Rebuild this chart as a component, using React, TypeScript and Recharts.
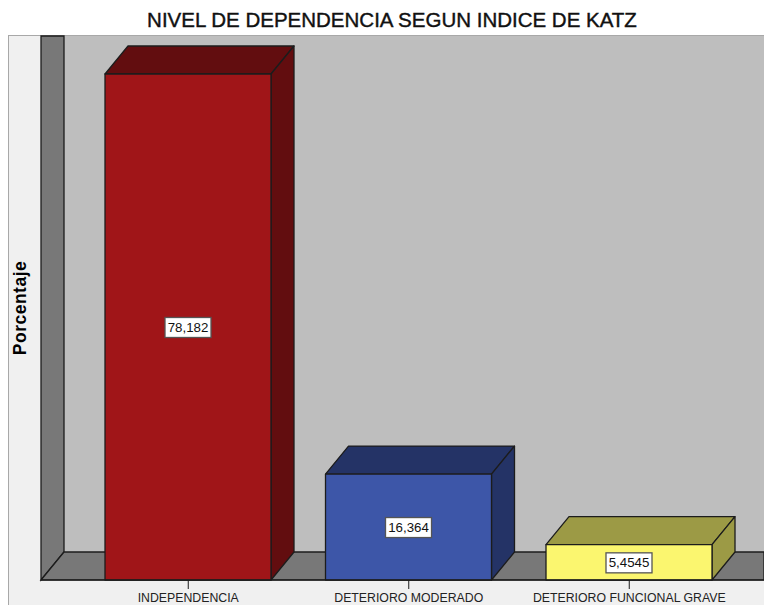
import React from 'react';
import { BarChart, Bar, XAxis, YAxis, LabelList, usePlotArea, useChartWidth, useChartHeight } from 'recharts';

const categories = ['INDEPENDENCIA', 'DETERIORO MODERADO', 'DETERIORO FUNCIONAL GRAVE'];
const values = [78.182, 16.364, 5.4545];
const valueLabels = ['78,182', '16,364', '5,4545'];
const frontColors = ['#A01518', '#3D56A8', '#FBF66F'];
const darkColors = ['#620D0F', '#243366', '#9C9A45'];
const data = categories.map((name, i) => ({ name, value: values[i], label: valueLabels[i], front: frontColors[i], dark: darkColors[i] }));

const DX = 23;
const DY = 28;
const LINE = '#1c1c1c';
const FONT = '"Liberation Sans", Arial, sans-serif';

function Walls() {
  const p = usePlotArea();
  const w = useChartWidth();
  const h = useChartHeight();
  if (!p || !w || !h) return null;
  const l = p.x;
  const t = p.y;
  const b = p.y + p.height;
  const r = p.x + p.width;
  return (
    <g>
      <rect x={8.5} y={t - 0.5} width={w} height={h - t + 1} fill="#F0F0F0" stroke="#A8A8A8" strokeWidth={1} />
      <rect x={l + DX} y={t} width={r - l - DX} height={b - DY - t} fill="#BEBEBE" />
      <polygon points={`${l},${t} ${l + DX},${t} ${l + DX},${b - DY} ${l},${b}`} fill="#787878" stroke={LINE} strokeWidth={1.3} />
      <polygon points={`${l},${b} ${l + DX},${b - DY} ${r},${b - DY} ${r},${b}`} fill="#787878" stroke={LINE} strokeWidth={1.3} />
    </g>
  );
}

function Box3D(props: any) {
  const { x, y, width, height, payload } = props;
  const x2 = x + width;
  const y2 = y + height;
  return (
    <g stroke={LINE} strokeWidth={1.3} strokeLinejoin="round">
      <polygon points={`${x},${y} ${x + DX},${y - DY} ${x2 + DX},${y - DY} ${x2},${y}`} fill={payload.dark} />
      <polygon points={`${x2},${y} ${x2 + DX},${y - DY} ${x2 + DX},${y2 - DY} ${x2},${y2}`} fill={payload.dark} />
      <rect x={x} y={y} width={width} height={height} fill={payload.front} />
    </g>
  );
}

function ValueBox(props: any) {
  const { x, y, width, height, value } = props;
  const cx = x + width / 2;
  const cy = y + height / 2;
  const bw = 46;
  const bh = 20;
  return (
    <g>
      <rect x={cx - bw / 2} y={cy - bh / 2 + 0.5} width={bw} height={bh} fill="#FFFFFF" stroke="#555555" strokeWidth={1.3} />
      <text x={cx} y={cy + 0.5} textAnchor="middle" dominantBaseline="central" fontFamily={FONT} fontSize={13.3} fill="#111111">{value}</text>
    </g>
  );
}

export default function App() {
  return (
    <div style={{ position: 'absolute', left: 0, top: 0, width: 764, height: 605, overflow: 'hidden', background: '#FFFFFF' }}>
      <BarChart width={764} height={605} data={data} margin={{ top: 36, right: 0, bottom: 0, left: 8 }}>
        <Walls />
        <XAxis
          dataKey="name"
          height={25}
          interval={0}
          padding={{ left: 37, right: 24.5 }}
          stroke={LINE}
          tickSize={9}
          tickMargin={4}
          tick={{ fontFamily: FONT, fontSize: 12.3, fill: '#222222' }}
        />
        <YAxis
          domain={[0, 84.05]}
          width={33}
          tick={false}
          axisLine={false}
          tickLine={false}
          label={{ value: 'Porcentaje', angle: -90, position: 'insideLeft', offset: 12, style: { fontFamily: FONT, fontSize: 17.5, fontWeight: 700, letterSpacing: 0.5, fill: '#000000', textAnchor: 'middle' } }}
        />
        <Bar dataKey="value" barSize={166} shape={Box3D} isAnimationActive={false}>
          <LabelList dataKey="label" content={ValueBox} />
        </Bar>
      </BarChart>
      <div style={{ position: 'absolute', left: 0, top: 9, width: 784, textAlign: 'center', fontFamily: FONT, fontSize: 20.5, lineHeight: '22px', color: '#111111', WebkitTextStroke: '0.4px #111111', whiteSpace: 'nowrap' }}>
        NIVEL DE DEPENDENCIA SEGUN INDICE DE KATZ
      </div>
    </div>
  );
}
